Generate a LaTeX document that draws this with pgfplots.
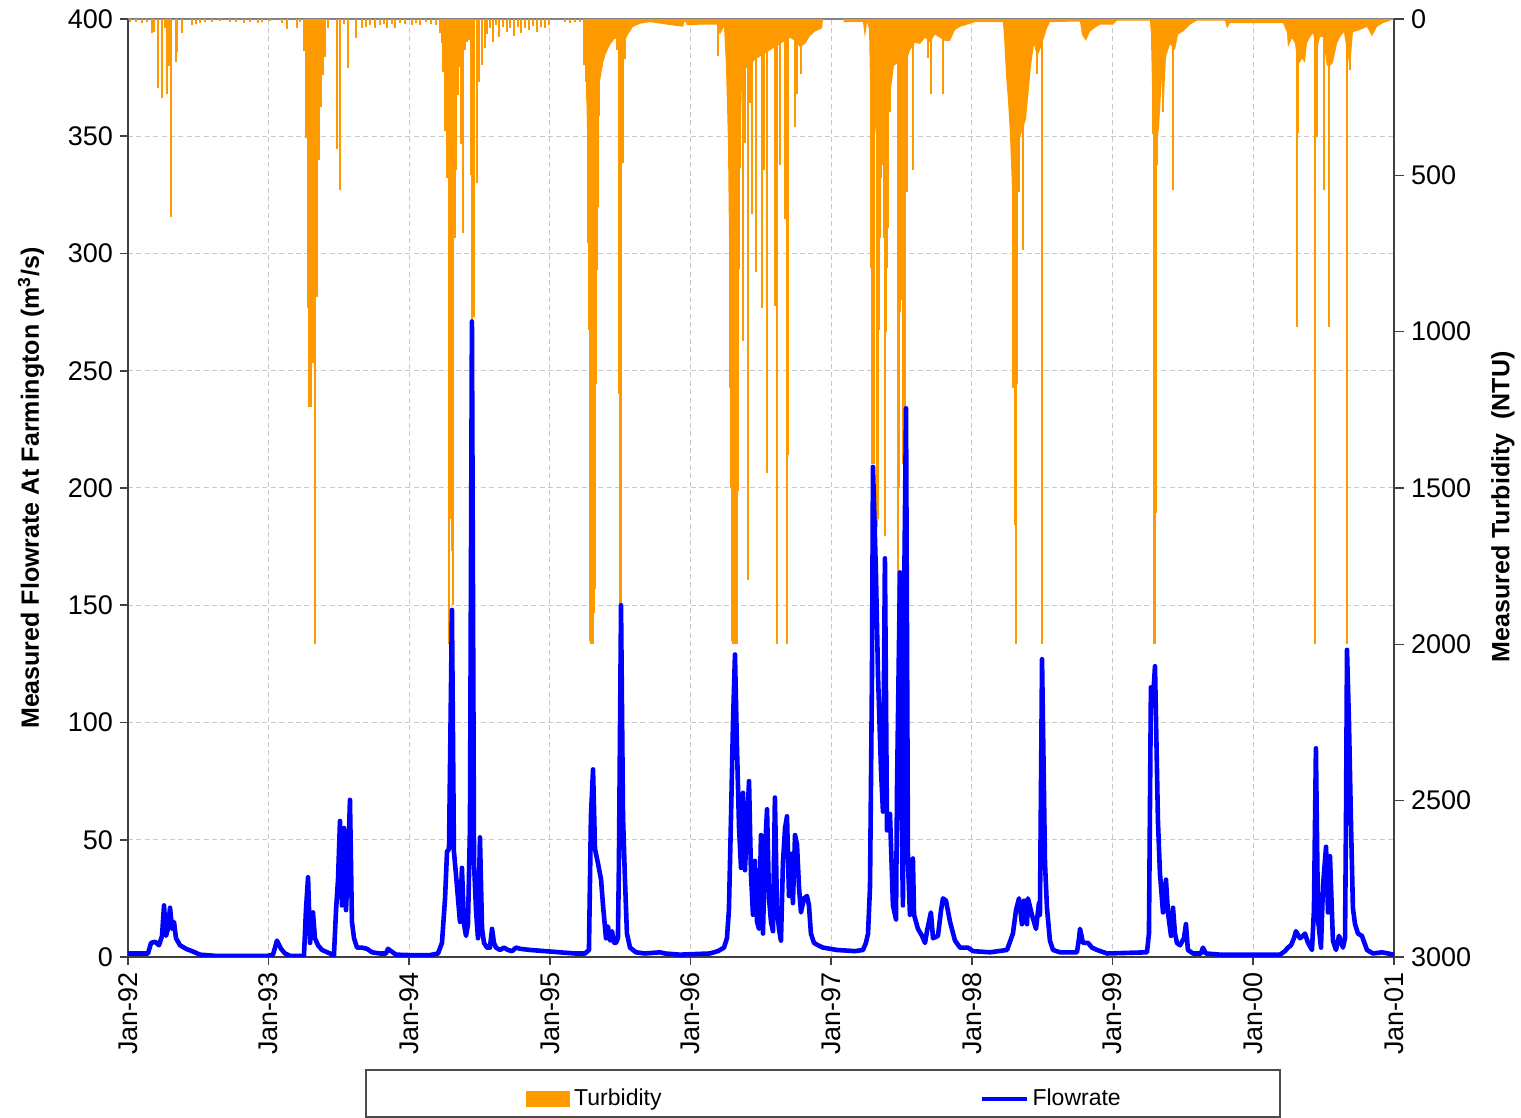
\documentclass[border=0pt]{standalone}
\usepackage{fontspec}
\setmainfont{Liberation Sans}
\usepackage{xcolor}
\usepackage{pgfplots}
\usepackage{pgfplotstable}
\pgfplotsset{compat=1.18}

\definecolor{turb}{RGB}{255,153,0}
\definecolor{flow}{RGB}{0,0,255}
\definecolor{gridgray}{RGB}{200,200,200}

% daily flowrate at Farmington (m3/s)
\pgfplotstableread{
year flow
1992.000 1.5
1992.142 1.5
1992.164 6
1992.192 6.5
1992.220 5
1992.242 9
1992.256 22
1992.270 9
1992.284 12
1992.299 21
1992.313 12
1992.327 15
1992.341 8
1992.370 5
1992.412 3.5
1992.455 2.5
1992.512 1
1992.618 0.5
1992.796 0.5
1992.995 0.5
1993.031 1
1993.059 7
1993.088 3.5
1993.116 1.5
1993.152 0.5
1993.251 0.5
1993.265 20
1993.280 34
1993.294 6
1993.315 19
1993.329 8
1993.351 5
1993.379 3
1993.436 1.5
1993.464 0.5
1993.479 20
1993.493 33
1993.507 58
1993.521 22
1993.536 55
1993.550 20
1993.564 40
1993.578 67
1993.592 15
1993.607 8
1993.628 4
1993.663 4
1993.699 3.5
1993.735 2
1993.791 1.5
1993.834 1.5
1993.848 3.5
1993.870 2.5
1993.905 1
1994.005 0.8
1994.147 0.8
1994.204 1.5
1994.232 6
1994.254 25
1994.268 45
1994.282 46
1994.303 148
1994.317 45
1994.332 35
1994.346 25
1994.360 15
1994.374 38
1994.389 14
1994.403 9
1994.417 14
1994.431 55
1994.445 271
1994.460 40
1994.474 20
1994.488 8
1994.502 51
1994.517 12
1994.531 6
1994.552 4
1994.573 4
1994.588 12
1994.602 6
1994.616 4
1994.645 3
1994.673 4
1994.701 3
1994.730 2.5
1994.758 4
1994.787 3.5
1994.858 3
1994.964 2.5
1995.071 2
1995.178 1.5
1995.249 1.5
1995.277 3
1995.291 60
1995.306 80
1995.320 46
1995.341 40
1995.363 33
1995.377 22
1995.398 8
1995.412 13
1995.427 7
1995.441 11
1995.455 6
1995.469 6
1995.483 8
1995.490 40
1995.505 150
1995.519 60
1995.533 33
1995.547 10
1995.569 4
1995.611 2
1995.675 1.5
1995.782 2
1995.817 1.5
1995.924 1
1996.137 1.5
1996.194 2.5
1996.237 4
1996.258 8
1996.272 20
1996.287 60
1996.301 100
1996.315 129
1996.329 90
1996.344 55
1996.358 38
1996.372 70
1996.386 37
1996.400 55
1996.415 75
1996.429 35
1996.443 18
1996.457 41
1996.472 15
1996.486 12
1996.500 52
1996.514 10
1996.528 45
1996.543 63
1996.557 25
1996.571 15
1996.585 11
1996.599 68
1996.614 20
1996.628 12
1996.642 7
1996.656 40
1996.671 55
1996.685 60
1996.699 26
1996.713 44
1996.727 23
1996.742 52
1996.756 48
1996.770 30
1996.784 19
1996.806 25
1996.827 26
1996.841 22
1996.855 10
1996.877 6
1996.905 5
1996.941 4
1997.040 3
1997.168 2.5
1997.225 3
1997.246 6
1997.261 10
1997.275 30
1997.289 120
1997.296 209
1997.317 164
1997.332 120
1997.353 80
1997.367 62
1997.381 170
1997.396 54
1997.417 61
1997.438 22
1997.460 16
1997.467 72
1997.488 164
1997.502 50
1997.509 22
1997.517 150
1997.531 234
1997.545 40
1997.559 18
1997.580 42
1997.588 18
1997.616 12
1997.645 9
1997.666 6
1997.680 11
1997.708 19
1997.723 8
1997.758 9
1997.780 20
1997.794 25
1997.815 24
1997.844 15
1997.879 7
1997.915 4
1997.972 4
1998.007 2.5
1998.128 2
1998.249 3
1998.291 10
1998.313 20
1998.334 25
1998.355 14
1998.370 24
1998.391 14
1998.398 25
1998.426 18
1998.455 12
1998.476 23
1998.483 18
1998.498 127
1998.519 40
1998.533 21
1998.554 7
1998.576 3
1998.626 2
1998.746 2
1998.761 8
1998.768 12
1998.789 6
1998.825 6
1998.853 4
1998.889 3
1998.960 1.5
1999.244 2
1999.258 10
1999.272 115
1999.287 110
1999.301 124
1999.315 80
1999.322 58
1999.336 36
1999.358 19
1999.379 33
1999.393 19
1999.415 9
1999.429 21
1999.443 10
1999.457 6
1999.479 5
1999.507 8
1999.521 14
1999.535 3
1999.571 1.5
1999.628 1.5
1999.642 4
1999.663 1.5
1999.763 1
2000.190 1
2000.225 2.5
2000.246 4
2000.268 5
2000.289 8
2000.303 11
2000.332 8
2000.353 9
2000.367 10
2000.389 6
2000.417 3
2000.431 20
2000.445 89
2000.460 16
2000.481 4
2000.495 30
2000.517 47
2000.531 19
2000.545 43
2000.566 7
2000.588 3
2000.609 9
2000.637 4
2000.652 8
2000.659 60
2000.666 131
2000.680 100
2000.694 58
2000.708 21
2000.723 14
2000.744 10
2000.772 9
2000.808 3
2000.851 1.5
2000.915 2
2001.000 1
}\flowdata

% turbidity (NTU): low background level in the wet seasons
\pgfplotstableread{
year ntu
1992.000 0
1995.235 0
1995.242 100
1995.256 200
1995.270 500
1995.284 800
1995.313 800
1995.327 600
1995.341 300
1995.355 200
1995.377 140
1995.398 110
1995.427 83
1995.455 65
1995.483 60
1995.512 90
1995.533 70
1995.554 50
1995.590 25
1995.640 15
1995.711 10
1995.832 18
1995.945 25
1995.960 5
1995.974 20
1996.066 18
1996.187 18
1996.208 50
1996.237 25
1996.251 150
1996.265 389
1996.280 1000
1996.351 450
1996.365 200
1996.386 160
1996.422 150
1996.457 130
1996.493 120
1996.528 110
1996.564 100
1996.599 90
1996.635 80
1996.671 70
1996.706 60
1996.742 70
1996.777 90
1996.813 80
1996.848 55
1996.884 40
1996.934 30
1996.941 0
1997.083 0
1997.090 10
1997.225 10
1997.239 61
1997.253 10
1997.268 32
1997.275 200
1997.325 400
1997.360 450
1997.388 400
1997.417 250
1997.445 150
1997.474 140
1997.524 150
1997.559 100
1997.595 75
1997.630 80
1997.666 60
1997.701 75
1997.737 50
1997.772 60
1997.808 70
1997.844 70
1997.879 35
1997.915 25
1997.986 15
1998.021 10
1998.220 10
1998.227 50
1998.242 180
1998.256 260
1998.270 370
1998.284 540
1998.299 600
1998.327 500
1998.341 380
1998.363 350
1998.384 320
1998.405 220
1998.419 150
1998.441 80
1998.462 120
1998.483 100
1998.505 70
1998.533 30
1998.554 10
1998.768 8
1998.782 50
1998.810 70
1998.839 40
1998.874 28
1998.910 18
1999.002 18
1999.031 5
1999.265 5
1999.272 50
1999.287 360
1999.315 400
1999.329 350
1999.351 180
1999.365 250
1999.379 120
1999.408 80
1999.443 100
1999.464 50
1999.500 40
1999.550 18
1999.600 5
1999.798 5
1999.813 30
1999.834 13
2000.211 13
2000.239 42
2000.246 90
2000.275 62
2000.296 78
2000.317 150
2000.346 126
2000.367 140
2000.381 78
2000.403 58
2000.424 46
2000.452 100
2000.474 58
2000.495 58
2000.523 150
2000.545 150
2000.566 140
2000.595 78
2000.616 58
2000.644 42
2000.687 160
2000.708 42
2000.758 35
2000.808 25
2000.843 55
2000.879 25
2000.922 13
2000.986 3
2001.000 0
}\turbbase

% turbidity (NTU): single readings that stand out
\pgfplotstableread{
year ntu
1992.014 10
1992.057 8
1992.100 12
1992.135 8
1992.171 45
1992.185 40
1992.213 221
1992.242 252
1992.263 30
1992.277 241
1992.291 150
1992.306 634
1992.341 137
1992.348 105
1992.384 45
1992.455 20
1992.483 15
1992.512 12
1992.547 8
1992.597 10
1992.654 6
1992.725 8
1992.768 10
1992.825 12
1992.867 8
1992.924 12
1992.953 10
1993.009 6
1993.095 12
1993.130 32
1993.201 30
1993.223 8
1993.251 102
1993.265 380
1993.280 924
1993.287 1241
1993.301 1241
1993.308 800
1993.315 1100
1993.329 2000
1993.344 889
1993.358 450
1993.372 281
1993.386 180
1993.400 121
1993.422 30
1993.486 416
1993.507 547
1993.536 15
1993.564 157
1993.621 60
1993.663 30
1993.692 25
1993.720 20
1993.756 28
1993.791 20
1993.820 15
1993.841 30
1993.877 15
1993.898 28
1993.934 12
1993.969 15
1994.019 20
1994.047 12
1994.076 18
1994.118 10
1994.154 15
1994.190 20
1994.218 45
1994.232 78
1994.239 168
1994.254 357
1994.268 510
1994.282 2000
1994.289 1400
1994.296 1600
1994.303 1700
1994.310 1874
1994.325 700
1994.332 483
1994.346 242
1994.360 155
1994.367 400
1994.381 685
1994.396 100
1994.410 74
1994.424 67
1994.438 500
1994.445 2000
1994.460 953
1994.481 524
1994.495 200
1994.517 147
1994.538 93
1994.552 47
1994.573 30
1994.595 74
1994.616 20
1994.637 58
1994.666 25
1994.694 40
1994.716 30
1994.744 55
1994.772 25
1994.794 45
1994.822 30
1994.851 35
1994.879 22
1994.908 40
1994.936 25
1994.964 30
1994.993 20
1995.107 10
1995.142 12
1995.178 8
1995.213 10
1995.242 147
1995.256 200
1995.263 260
1995.270 717
1995.277 995
1995.284 1990
1995.291 2000
1995.299 2000
1995.306 2000
1995.313 1900
1995.320 1823
1995.327 1167
1995.334 803
1995.341 600
1995.348 310
1995.370 155
1995.391 108
1995.476 98
1995.490 1200
1995.498 2000
1995.505 2000
1995.519 460
1995.533 127
1996.194 118
1996.280 1181
1996.287 1500
1996.294 1988
1996.301 2000
1996.308 2000
1996.315 2000
1996.322 2000
1996.329 2000
1996.336 1510
1996.344 800
1996.351 475
1996.372 1031
1996.386 396
1996.408 1795
1996.422 268
1996.436 625
1996.464 810
1996.507 924
1996.521 482
1996.543 1452
1996.599 917
1996.614 2000
1996.635 468
1996.671 639
1996.685 2000
1996.692 1395
1996.742 346
1996.756 240
1996.784 175
1997.282 796
1997.289 1424
1997.296 1424
1997.303 1424
1997.325 1624
1997.332 1600
1997.339 995
1997.346 700
1997.353 510
1997.367 468
1997.374 700
1997.381 1652
1997.388 1000
1997.396 796
1997.403 667
1997.417 296
1997.474 2000
1997.481 1500
1997.488 938
1997.495 900
1997.509 1424
1997.517 1300
1997.524 1238
1997.538 553
1997.580 482
1997.687 125
1997.708 240
1997.794 240
1998.291 1181
1998.306 1617
1998.313 2000
1998.320 1167
1998.334 553
1998.363 739
1998.462 175
1998.498 2000
1999.287 367
1999.294 2000
1999.301 2000
1999.308 1580
1999.315 468
1999.358 296
1999.429 546
2000.310 984
2000.317 366
2000.438 2000
2000.452 377
2000.502 547
2000.538 984
2000.666 2000
2000.687 163
}\turbspikes

\begin{document}
\begin{tikzpicture}
\path[use as bounding box] (-64pt,-80.5pt) rectangle (696.5pt,478.5pt);

% left axis: frame, grid, ticks
\begin{axis}[
    at={(0pt,0pt)}, anchor=south west,
    scale only axis, width=633pt, height=469pt,
    xmin=1992, xmax=2001, ymin=0, ymax=400,
    axis x line*=bottom, axis y line*=left,
    axis line style={black!75, line width=0.8pt},
    xtick={1992,...,2001},
    xticklabels={Jan-92,Jan-93,Jan-94,Jan-95,Jan-96,Jan-97,Jan-98,Jan-99,Jan-00,Jan-01},
    minor x tick num=3,
    ytick={0,50,...,400},
    tick align=outside,
    major tick length=4pt, minor tick length=4pt,
    tick style={black!75, line width=0.8pt},
    xmajorgrids, ymajorgrids,
    major grid style={gridgray, dash pattern=on 2.5pt off 1.7pt, line width=0.5pt},
    /pgf/number format/assume math mode=true,
    ticklabel style={font=\fontsize{13.5}{15}\selectfont},
    xticklabel style={rotate=90, anchor=east},
    every axis y label/.style={at={(axis description cs:-0.0766,0.5)}, rotate=90, anchor=center},
    ylabel={\bfseries\fontsize{12.5}{14}\selectfont Measured Flowrate At Farmington (m\textsuperscript{3}/s)},
]
\draw[black!50, line width=0.8pt] (rel axis cs:0,1) -- (rel axis cs:1,1);
\end{axis}

% right axis: turbidity hanging from the top
\begin{axis}[
    at={(0pt,0pt)}, anchor=south west,
    scale only axis, width=633pt, height=469pt,
    xmin=1992, xmax=2001, ymin=0, ymax=3000,
    y dir=reverse,
    axis x line=none, axis y line*=right,
    axis line style={black!75, line width=0.8pt},
    ytick={0,500,...,3000},
    tick align=outside, major tick length=5pt,
    tick style={black!75, line width=0.8pt},
    /pgf/number format/assume math mode=true,
    /pgf/number format/1000 sep={},
    ticklabel style={font=\fontsize{13.5}{15}\selectfont},
    every axis y label/.style={at={(axis description cs:1.0861,0.48)}, rotate=90, anchor=center},
    ylabel={\bfseries\fontsize{12.5}{14}\selectfont Measured Turbidity\ \ (NTU)},
]
\addplot[fill=turb, draw=none] table[x=year, y=ntu] {\turbbase};
\addplot[ycomb, draw=turb, line width=1pt] table[x=year, y=ntu] {\turbspikes};
\end{axis}

% flowrate line on top, with the legend
\begin{axis}[
    at={(0pt,0pt)}, anchor=south west,
    scale only axis, width=633pt, height=469pt,
    xmin=1992, xmax=2001, ymin=0, ymax=400,
    hide axis,
    legend columns=2,
    legend cell align=left,
    legend style={at={(axis description cs:0.3144,-0.1510)}, anchor=west,
        draw=none, fill=none, inner sep=0pt,
        font=\fontsize{11.5}{13}\selectfont,
        /tikz/every even column/.append style={column sep=157pt}},
]
\addlegendimage{legend image code/.code={\fill[turb] (0pt,-3.75pt) rectangle (21.5pt,3.75pt);}}
\addplot[flow, line width=2.3pt, line join=round,
    legend image code/.code={\draw[flow, line width=2pt] (0pt,0pt) -- (22.5pt,0pt);}]
    table[x=year, y=flow] {\flowdata};
\legend{Turbidity, Flowrate}
\end{axis}

\draw[black!70, line width=0.6pt] (119pt,-56.5pt) rectangle (576pt,-80pt);
\end{tikzpicture}
\end{document}
